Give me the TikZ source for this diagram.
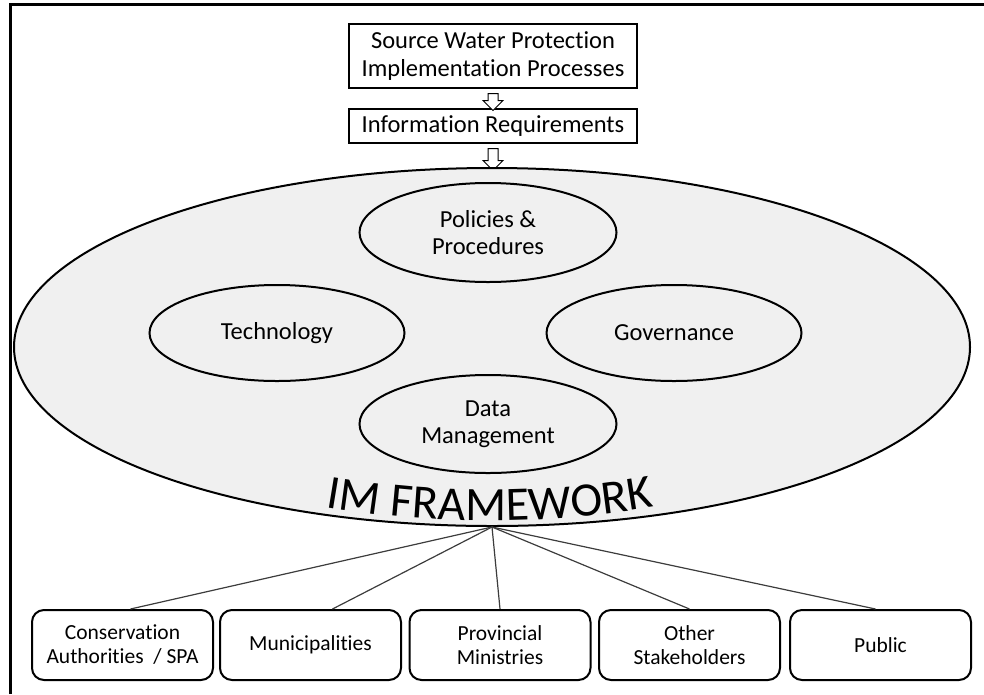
\documentclass[tikz,border=0pt]{standalone}
\usepackage{fontspec}
\setmainfont{Carlito}[Ligatures=NoCommon]
\usepackage{tikz}
\usetikzlibrary{positioning,shapes.geometric,shapes.arrows,decorations.text}

\definecolor{imgray}{RGB}{240,240,240}
\definecolor{linkgray}{RGB}{60,60,60}

\begin{document}
\begin{tikzpicture}[x=1pt,y=-1pt,
    box/.style={draw,line width=1.5pt,minimum width=288,align=center,inner sep=2pt,font=\fontsize{24.5}{28}\selectfont},
    hollow/.style={draw,fill=white,line width=1pt,single arrow,shape border rotate=270,inner sep=4.5pt,single arrow head extend=5},
    bubble/.style={draw,ellipse,line width=2pt,fill=imgray,align=center,font=\fontsize{24.5}{27}\selectfont},
    group/.style={draw,rounded corners=12pt,line width=2pt,minimum width=181,minimum height=70,align=center,font=\fontsize{21.5}{24}\selectfont}]
    \useasboundingbox (0,0) rectangle (984,694);
    \draw[line width=3pt] (10.5,694) -- (10.5,4.5) -- (984,4.5);

    \node[box,minimum height=64] (src) at (493,56) {Source Water Protection\\Implementation Processes};
    \node[box,minimum height=34] (info) at (493,126) {Information Requirements};
    \node[hollow,minimum height=17] (a1) at (493,99.5) {};
    \node[hollow,minimum height=22] (a2) at (493,157) {};

    \node[bubble,line width=2pt,minimum width=956,minimum height=358] (im) at (492,347) {};
    \node[bubble,minimum width=257,minimum height=99] (pol) at (488,232.5) {Policies \&\\Procedures};
    \node[bubble,minimum width=255,minimum height=96] (tech) at (277,333) {Technology};
    \node[bubble,minimum width=255,minimum height=96] (gov) at (674,333) {Governance};
    \node[bubble,minimum width=257,minimum height=98] (data) at (488,424) {Data\\Management};
    \path[decorate,decoration={text along path,text align=center,
        text={|\fontsize{48}{48}\selectfont|IM FRAMEWORK}}]
        (250,491) .. controls (410,531) and (570,531) .. (730,491);

    \coordinate (hub) at (492,527);
    \node[group] (cons) at (122.5,645) {Conservation\\Authorities~~/ SPA};
    \node[group] (mun) at (310.5,645) {Municipalities};
    \node[group] (prov) at (500,645) {Provincial\\Ministries};
    \node[group] (other) at (689.5,645) {Other\\Stakeholders};
    \node[group] (pub) at (880.5,645) {Public};

    \foreach \n/\s in {cons/8,mun/22,prov/0,other/0,pub/-5}
        \draw[line width=1.2pt,linkgray] (hub) -- ([xshift=\s]\n.north);
\end{tikzpicture}
\end{document}
